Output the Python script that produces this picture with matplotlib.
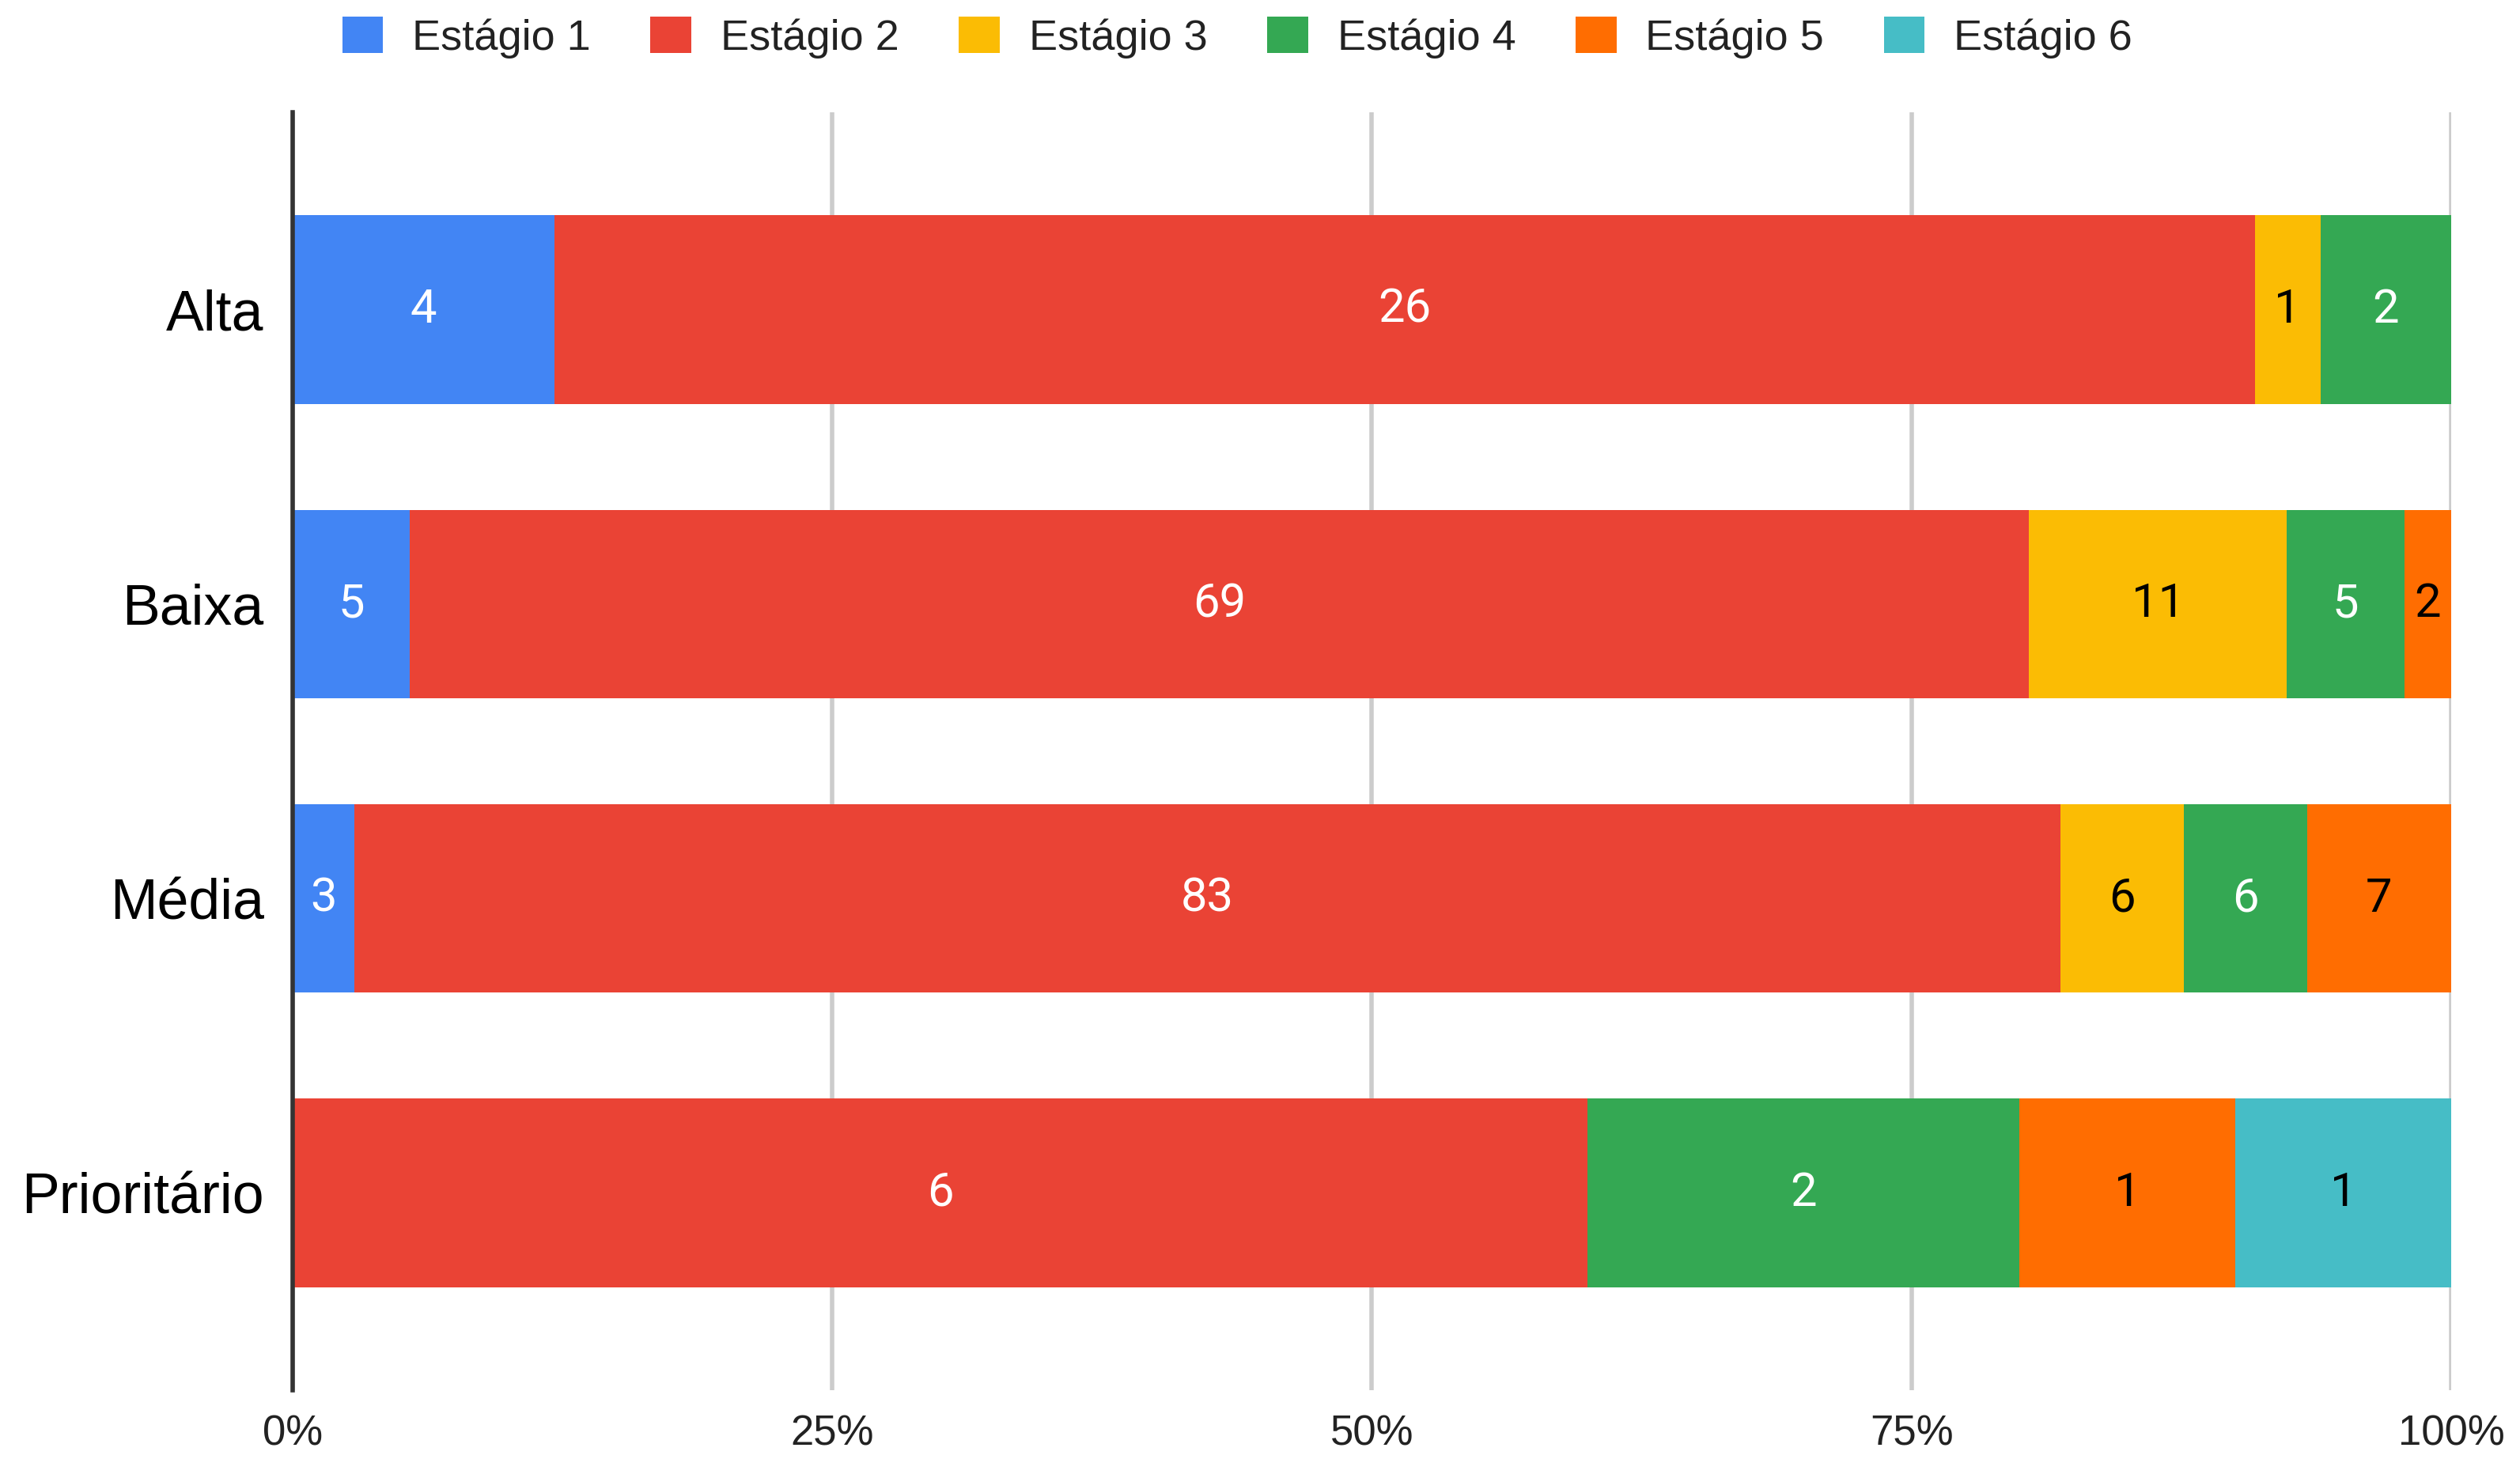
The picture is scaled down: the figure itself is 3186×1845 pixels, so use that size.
import matplotlib
matplotlib.use("Agg")
import matplotlib.pyplot as plt
import numpy as np

categories = ["Alta", "Baixa", "Média", "Prioritário"]
series_names = ["Estágio 1", "Estágio 2", "Estágio 3", "Estágio 4", "Estágio 5", "Estágio 6"]
estagio1 = [4, 5, 3, 0]
estagio2 = [26, 69, 83, 6]
estagio3 = [1, 11, 6, 0]
estagio4 = [2, 5, 6, 2]
estagio5 = [0, 2, 7, 1]
estagio6 = [0, 0, 0, 1]
x_ticks = [0, 25, 50, 75, 100]
x_tick_labels = ["0%", "25%", "50%", "75%", "100%"]

colors = ["#4285F4", "#EA4335", "#FBBC04", "#34A853", "#FF6D01", "#46BDC6"]
label_colors = ["white", "white", "black", "white", "black", "black"]

series = [estagio1, estagio2, estagio3, estagio4, estagio5, estagio6]
data = np.array(series, dtype=float)
totals = data.sum(axis=0)
pct = data / totals * 100

fig = plt.figure(figsize=(3186 / 200, 1845 / 200), dpi=200)
ax = fig.add_axes([0.1161, 0.0472, 0.8566, 0.8759])

ypos = np.arange(len(categories))
left = np.zeros(len(categories))
handles = []
for i, name in enumerate(series_names):
    bars = ax.barh(ypos, pct[i], left=left, height=0.64, color=colors[i],
                   label=name, zorder=3, linewidth=0)
    handles.append(bars)
    for j in range(len(categories)):
        if data[i, j] > 0:
            ax.text(left[j] + pct[i, j] / 2, ypos[j], f"{int(data[i, j])}",
                    ha="center", va="center", color=label_colors[i],
                    fontsize=21.5, family="Roboto", zorder=4)
    left = left + pct[i]

ax.set_xlim(0, 100)
ax.set_ylim(len(categories) - 1 + 0.67, -0.67)
ax.set_yticks(ypos)
ax.set_yticklabels(categories, fontsize=25.8, family="Liberation Sans")
ax.set_xticks(x_ticks)
ax.set_xticklabels(x_tick_labels, fontsize=19, family="Liberation Sans", color="#222222")
ax.tick_params(axis="both", length=0)
ax.tick_params(axis="y", pad=13)
ax.tick_params(axis="x", pad=11)

for s in ["top", "right", "bottom"]:
    ax.spines[s].set_visible(False)
ax.spines["left"].set_color("#333333")
ax.spines["left"].set_linewidth(2)
ax.spines["left"].set_zorder(5)

ax.grid(axis="x", color="#cccccc", linewidth=2, zorder=0)
ax.set_axisbelow(True)

leg = fig.legend(handles=handles, labels=series_names, loc="center",
                 bbox_to_anchor=(0.491, 0.9745), ncol=6, frameon=False,
                 prop={"family": "Liberation Sans", "size": 19.5},
                 handlelength=0.95, handleheight=0.95, handletextpad=0.68,
                 columnspacing=1.4)
for t in leg.get_texts():
    t.set_color("#222222")

fig.savefig("out.png", dpi=200, facecolor="white")
